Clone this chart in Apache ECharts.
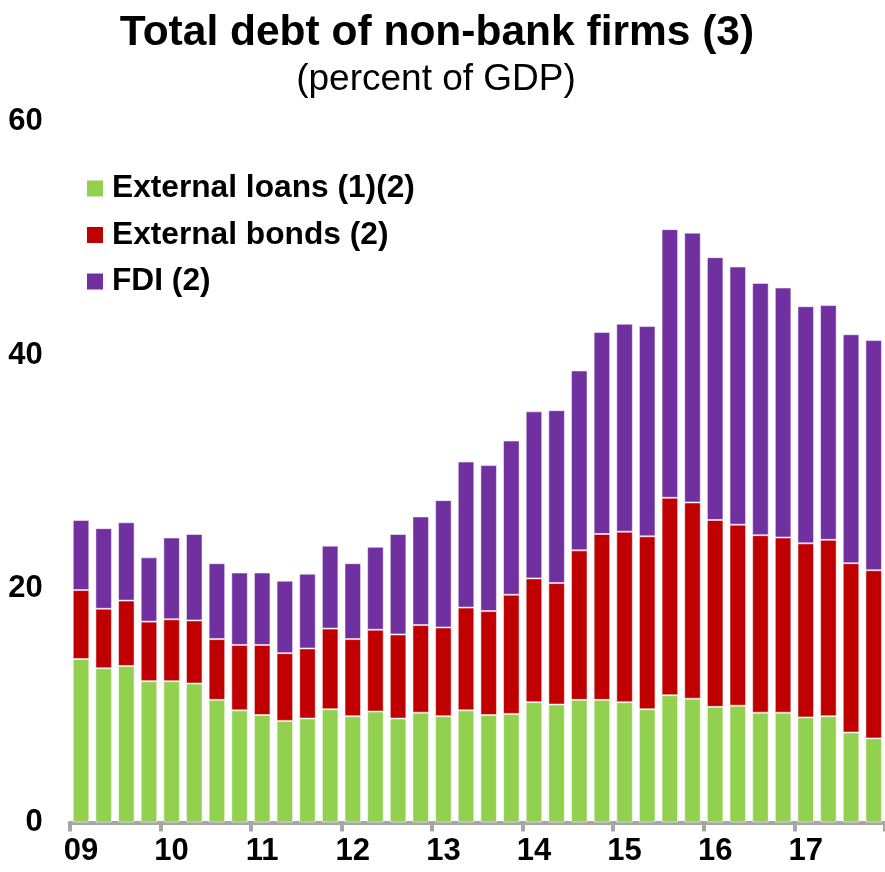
<!DOCTYPE html>
<html>
<head>
<meta charset="utf-8">
<title>Total debt of non-bank firms</title>
<script src="https://cdn.jsdelivr.net/npm/echarts@6/dist/echarts.min.js"></script>
<style>
  html, body { margin: 0; padding: 0; background: #ffffff; }
  #chart { width: 885px; height: 872px; }
</style>
</head>
<body>
<div id="chart"></div>
<script>
// Year tick labels (each year has four quarterly bars)
var years = ['09', '10', '11', '12', '13', '14', '15', '16', '17'];
var quarters = ['Q1', 'Q2', 'Q3', 'Q4'];

// Percent of GDP, quarterly 2009 Q1 - 2017 Q4
var externalLoans = [
  14.0, 13.2, 13.4, 12.1, 12.1, 11.9, 10.5, 9.6, 9.2, 8.7, 8.9, 9.7,
  9.1, 9.5, 8.9, 9.4, 9.1, 9.6, 9.2, 9.3, 10.3, 10.1, 10.5, 10.5,
  10.3, 9.7, 10.9, 10.6, 9.9, 10.0, 9.4, 9.4, 9.0, 9.1, 7.7, 7.2
];
var externalBonds = [
  5.9, 5.1, 5.6, 5.1, 5.3, 5.4, 5.2, 5.6, 6.0, 5.8, 6.0, 6.9,
  6.6, 7.0, 7.2, 7.5, 7.6, 8.8, 8.9, 10.2, 10.6, 10.4, 12.8, 14.2,
  14.6, 14.8, 16.9, 16.8, 16.0, 15.5, 15.2, 15.0, 14.9, 15.1, 14.5, 14.4
];
var fdi = [
  6.0, 6.9, 6.7, 5.5, 7.0, 7.4, 6.5, 6.2, 6.2, 6.2, 6.4, 7.1,
  6.5, 7.1, 8.6, 9.3, 10.9, 12.5, 12.5, 13.2, 14.3, 14.8, 15.4, 17.3,
  17.8, 18.0, 23.0, 23.1, 22.5, 22.1, 21.6, 21.4, 20.3, 20.1, 19.6, 19.7
];

var categories = [];
years.forEach(function (y) {
  quarters.forEach(function (q) { categories.push(y + ' ' + q); });
});

var FONT = "'Liberation Sans', Arial, Helvetica, sans-serif";
var barBorder = { borderColor: 'rgba(255,255,255,0.5)', borderWidth: 1 };

function barSeries(name, data, color) {
  return {
    name: name,
    type: 'bar',
    stack: 'debt',
    data: data,
    barWidth: '73%',
    itemStyle: Object.assign({ color: color }, barBorder)
  };
}

var chart = echarts.init(document.getElementById('chart'), null, { renderer: 'canvas' });

chart.setOption({
  animation: false,
  backgroundColor: '#ffffff',
  textStyle: { fontFamily: FONT },
  title: [
    {
      text: 'Total debt of non-bank firms (3)',
      left: 437,
      top: 12,
      textAlign: 'center',
      padding: 0,
      textStyle: { fontFamily: FONT, fontSize: 42.5, fontWeight: 'bold', color: '#000000' }
    },
    {
      text: '(percent of GDP)',
      left: 436,
      top: 61,
      textAlign: 'center',
      padding: 0,
      textStyle: { fontFamily: FONT, fontSize: 37, fontWeight: 'normal', color: '#000000' }
    }
  ],
  legend: {
    orient: 'vertical',
    left: 87,
    top: 172.5,
    padding: 0,
    itemWidth: 16,
    itemHeight: 16,
    itemGap: 14.5,
    icon: 'rect',
    itemStyle: { borderWidth: 0 },
    textStyle: {
      fontFamily: FONT,
      fontSize: 31.7,
      fontWeight: 'bold',
      color: '#000000',
      lineHeight: 32,
      padding: [0, 0, 0, 4]
    },
    data: ['External loans (1)(2)', 'External bonds (2)', 'FDI (2)']
  },
  grid: {
    left: 69.7,
    top: 121.7,
    width: 817.2,
    height: 700.8,
    containLabel: false
  },
  xAxis: {
    type: 'category',
    data: categories,
    boundaryGap: true,
    axisLine: { show: true, lineStyle: { color: '#A6A6A6', width: 4 } },
    axisTick: {
      show: true,
      interval: 3,
      alignWithLabel: false,
      length: 9,
      lineStyle: { color: '#A6A6A6', width: 4 }
    },
    axisLabel: {
      interval: 3,
      margin: 13,
      fontFamily: FONT,
      fontSize: 31,
      fontWeight: 'bold',
      color: '#000000',
      formatter: function (v) { return v.split(' ')[0]; }
    },
    splitLine: { show: false }
  },
  yAxis: {
    type: 'value',
    min: 0,
    max: 60,
    interval: 20,
    axisLine: { show: false },
    axisTick: { show: false },
    splitLine: { show: false },
    axisLabel: {
      margin: 27,
      padding: [3, 0, 0, 0],
      fontFamily: FONT,
      fontSize: 31,
      fontWeight: 'bold',
      color: '#000000'
    }
  },
  series: [
    barSeries('External loans (1)(2)', externalLoans, '#92D050'),
    barSeries('External bonds (2)', externalBonds, '#C00000'),
    barSeries('FDI (2)', fdi, '#7030A0')
  ]
});
</script>
</body>
</html>
